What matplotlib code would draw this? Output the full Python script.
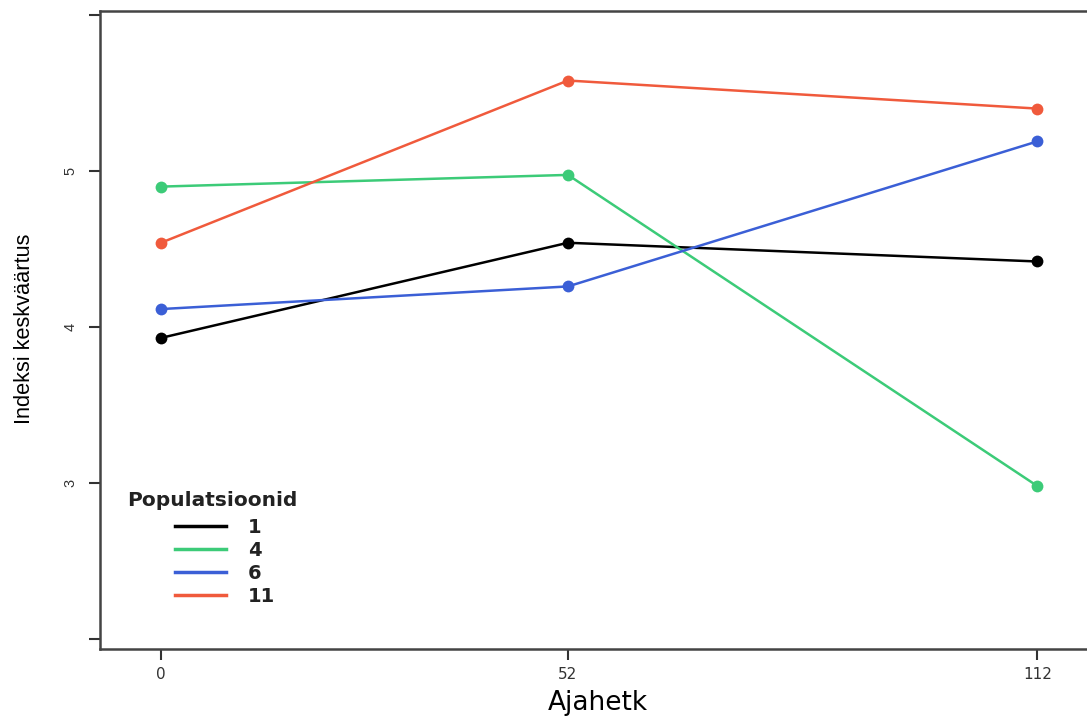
import matplotlib
matplotlib.use("Agg")
import matplotlib.pyplot as plt
from matplotlib.lines import Line2D

plt.rcParams['font.family'] = ['DejaVu Sans']

TIMES = [0, 52, 112]
POPULATIONS = ["1", "4", "6", "11"]
POP_1 = [3.93, 4.54, 4.42]
POP_4 = [4.90, 4.975, 2.98]
POP_6 = [4.115, 4.26, 5.19]
POP_11 = [4.54, 5.58, 5.40]
COLORS = ["#000000", "#3ccb78", "#3b5fd6", "#f05a3c"]

W, H = 1087, 720
fig = plt.figure(figsize=(W / 100, H / 100), dpi=100)
ax = fig.add_axes([100 / W, (H - 649) / H, (W - 100) / W + 0.01, (649 - 11) / H])

series = [POP_1, POP_4, POP_6, POP_11]
for vals, col in zip(series, COLORS):
    ax.plot(TIMES, vals, color=col, linewidth=1.8, marker="o", markersize=8.5,
            markeredgewidth=0, zorder=3)

# pixel-matched limits
px_per_x = (1037.6 - 161) / 112
ax.set_xlim(0 - (161 - 100) / px_per_x, 0 + (W + 11 - 161) / px_per_x)
ax.set_ylim(2 - 10 / 156, 6 + 4 / 156)

ax.set_xticks(TIMES)
ax.set_xticklabels([str(t) for t in TIMES], fontsize=11, color="#333333")
ax.set_yticks([2, 3, 4, 5, 6])
ax.set_yticklabels(["", "3", "4", "5", ""], fontsize=10.5, color="#333333",
                   rotation=90, va="center", family="Liberation Sans")
ax.tick_params(axis="both", length=8, width=1.5, color="#333333", direction="out")
ax.tick_params(axis="x", pad=5)
ax.tick_params(axis="y", pad=8)

for side in ["left", "bottom", "top"]:
    ax.spines[side].set_linewidth(1.8)
    ax.spines[side].set_color("#444444")
ax.spines["right"].set_visible(False)

fig.text(598 / W, 1 - 703 / H, "Ajahetk", fontsize=19, ha="center", va="center")
fig.text(25 / W, 1 - 329 / H, "Indeksi keskväärtus", rotation=90, fontsize=15.7,
         ha="center", va="center", family="Liberation Sans")

# legend: title placed separately so the entries sit indented as in the original
fig.text(127 / W, 1 - 501 / H, "Populatsioonid", fontsize=14.5, fontweight="bold",
         color="#222222", ha="left", va="center")
handles = [Line2D([0], [0], color=c, linewidth=2.5) for c in COLORS]
leg = fig.legend(handles, POPULATIONS, loc="upper left",
                 bbox_to_anchor=(175 / W, 1 - 518 / H), frameon=False,
                 handlelength=2.6, handletextpad=1.15, labelspacing=0.2,
                 borderpad=0, borderaxespad=0,
                 prop={"weight": "bold", "size": 14})
for t in leg.get_texts():
    t.set_color("#222222")

fig.savefig("out.png", dpi=100)
